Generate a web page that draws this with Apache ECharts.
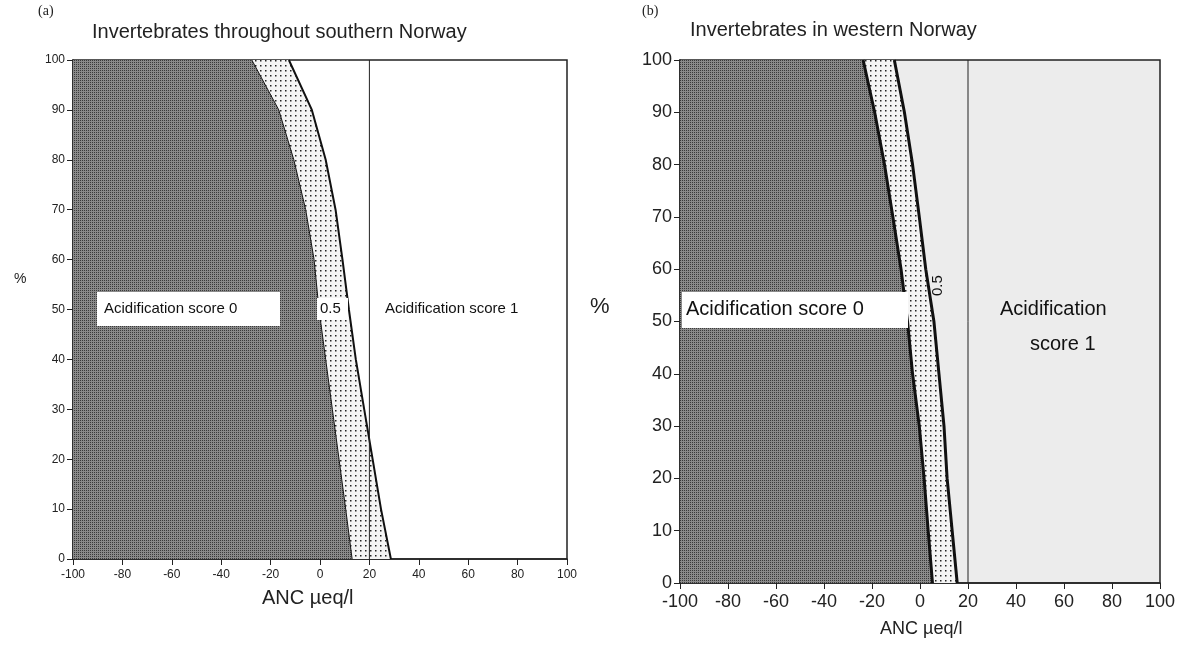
<!DOCTYPE html>
<html>
<head>
<meta charset="utf-8">
<script src="https://cdn.jsdelivr.net/npm/echarts@6/dist/echarts.min.js"></script>
<style>html,body{margin:0;background:#fff}#main{width:1204px;height:645px}</style>
</head>
<body>
<div id="main"></div>
<script>
// percent levels, shared by all curves
var pct = [100, 90, 80, 70, 60, 50, 40, 30, 20, 10, 0];
// (a) southern Norway: ANC at the score-0 edge and the score-1 edge
var edgeA0 = [-27.6, -16.7, -10.6, -5.8, -2.4, -0.4, 2.3, 5, 7.7, 10.4, 13];
var edgeA1 = [-12.6, -3.3, 2.3, 6.3, 9.1, 11.7, 14.5, 17.9, 21.3, 24.7, 28.7];
// (b) western Norway
var edgeB0 = [-23.7, -18.9, -14.8, -11.3, -7.9, -5.2, -3.1, -0.3, 1.7, 3.4, 5.2];
var edgeB1 = [-10.7, -6.5, -3.1, -0.3, 2.4, 5.8, 7.9, 10, 11.3, 13.4, 15.5];
var threshold = 20;

function makePattern(bg, dot, step, size) {
    var c = document.createElement('canvas');
    c.width = step; c.height = step;
    var g = c.getContext('2d');
    g.fillStyle = bg; g.fillRect(0, 0, step, step);
    g.fillStyle = dot; g.fillRect(0, 0, size, size);
    return c;
}
var darkPat = makePattern('#8a8a8a', '#3a3a3a', 2, 1);
var dotPat = makePattern('#f4f4f4', '#222', 5, 1.5);

function pts(xs) { return xs.map(function (x, i) { return [x, pct[i]]; }); }

function regionSeries(idx, left, right, fill) {
    // polygon between two edges (left may be the -100 wall)
    var data = pts(left).concat(pts(right).reverse());
    return {
        type: 'custom', xAxisIndex: idx, yAxisIndex: idx, silent: true,
        data: data,
        renderItem: function (params, api) {
            if (params.dataIndex !== 0) return;
            var poly = data.map(function (d) { return api.coord(d); });
            return { type: 'polygon', shape: { points: poly },
                style: { fill: { image: fill, repeat: 'repeat' }, stroke: null } };
        }
    };
}
function edgeLine(idx, xs, w) {
    return { type: 'line', xAxisIndex: idx, yAxisIndex: idx, data: pts(xs),
        showSymbol: false, silent: true, lineStyle: { color: '#111', width: w } };
}
var wall = pct.map(function () { return -100; });

function xAx(idx, fs) {
    return { type: 'value', gridIndex: idx, min: -100, max: 100, interval: 20,
        axisLine: { onZero: false, lineStyle: { color: '#222', width: 1.5 } },
        axisTick: { lineStyle: { color: '#222' }, length: 6 },
        axisLabel: { color: '#222', fontSize: fs, margin: 10 }, splitLine: { show: false } };
}
function yAx(idx, fs) {
    return { type: 'value', gridIndex: idx, min: 0, max: 100, interval: 10,
        axisLine: { show: true, onZero: false, lineStyle: { color: '#222', width: 1.5 } },
        axisTick: { show: true, lineStyle: { color: '#222' }, length: 6 },
        axisLabel: { color: '#222', fontSize: fs }, splitLine: { show: false } };
}
function vline(idx) {
    return { type: 'line', xAxisIndex: idx, yAxisIndex: idx, data: [[threshold, 0], [threshold, 100]],
        showSymbol: false, silent: true, lineStyle: { color: '#222', width: 1 } };
}

var chart = echarts.init(document.getElementById('main'));
chart.setOption({
    backgroundColor: '#fff',
    animation: false,
    textStyle: { fontFamily: 'Liberation Sans, Arial, sans-serif' },
    grid: [
        { left: 73, right: 637, top: 60, bottom: 86, show: true, borderColor: '#222', borderWidth: 1.5, backgroundColor: '#fff' },
        { left: 680, right: 44, top: 60, bottom: 62, show: true, borderColor: '#222', borderWidth: 1.5, backgroundColor: '#ececec' }
    ],
    xAxis: [xAx(0, 12), xAx(1, 18)],
    yAxis: [yAx(0, 12), yAx(1, 18)],
    series: [
        regionSeries(0, wall, edgeA0, darkPat),
        regionSeries(0, edgeA0, edgeA1, dotPat),
        edgeLine(0, edgeA0, 1), edgeLine(0, edgeA1, 2), vline(0),
        regionSeries(1, wall, edgeB0, darkPat),
        regionSeries(1, edgeB0, edgeB1, dotPat),
        edgeLine(1, edgeB0, 3), edgeLine(1, edgeB1, 3), vline(1)
    ],
    graphic: { elements: [
        { type: 'text', z: 100, left: 38, top: 4, style: { text: '(a)', fontSize: 14, fill: '#222', fontFamily: 'Liberation Serif' } },
        { type: 'text', z: 100, left: 92, top: 22, style: { text: 'Invertebrates throughout southern Norway', fontSize: 20, fill: '#222' } },
        { type: 'text', z: 100, left: 14, top: 272, style: { text: '%', fontSize: 14, fill: '#222' } },
        { type: 'text', z: 100, left: 262, top: 588, style: { text: 'ANC \u00b5eq/l', fontSize: 20, fill: '#222' } },
        { type: 'rect', z: 100, shape: { x: 97, y: 292, width: 183, height: 34 }, style: { fill: '#fff' } },
        { type: 'text', z: 101, left: 104, top: 301, style: { text: 'Acidification score 0', fontSize: 15, fill: '#111' } },
        { type: 'rect', z: 100, shape: { x: 317, y: 298, width: 31, height: 22 }, style: { fill: '#fff' } },
        { type: 'text', z: 101, left: 320, top: 301, style: { text: '0.5', fontSize: 15, fill: '#111' } },
        { type: 'text', z: 101, left: 385, top: 301, style: { text: 'Acidification score 1', fontSize: 15, fill: '#111' } },

        { type: 'text', z: 100, left: 642, top: 4, style: { text: '(b)', fontSize: 14, fill: '#222', fontFamily: 'Liberation Serif' } },
        { type: 'text', z: 100, left: 690, top: 20, style: { text: 'Invertebrates in western Norway', fontSize: 20, fill: '#222' } },
        { type: 'text', z: 100, left: 590, top: 296, style: { text: '%', fontSize: 22, fill: '#222' } },
        { type: 'text', z: 100, left: 880, top: 620, style: { text: 'ANC \u00b5eq/l', fontSize: 18, fill: '#222' } },
        { type: 'rect', z: 100, shape: { x: 682, y: 292, width: 226, height: 36 }, style: { fill: '#fff' } },
        { type: 'text', z: 101, left: 686, top: 299, style: { text: 'Acidification score 0', fontSize: 20, fill: '#111' } },
        { type: 'text', z: 101, x: 930, y: 296, rotation: Math.PI / 2, style: { text: '0.5', fontSize: 15, fill: '#111' } },
        { type: 'text', z: 101, left: 1000, top: 299, style: { text: 'Acidification', fontSize: 20, fill: '#111' } },
        { type: 'text', z: 101, left: 1030, top: 334, style: { text: 'score 1', fontSize: 20, fill: '#111' } }
    ] }
});
</script>
</body>
</html>
